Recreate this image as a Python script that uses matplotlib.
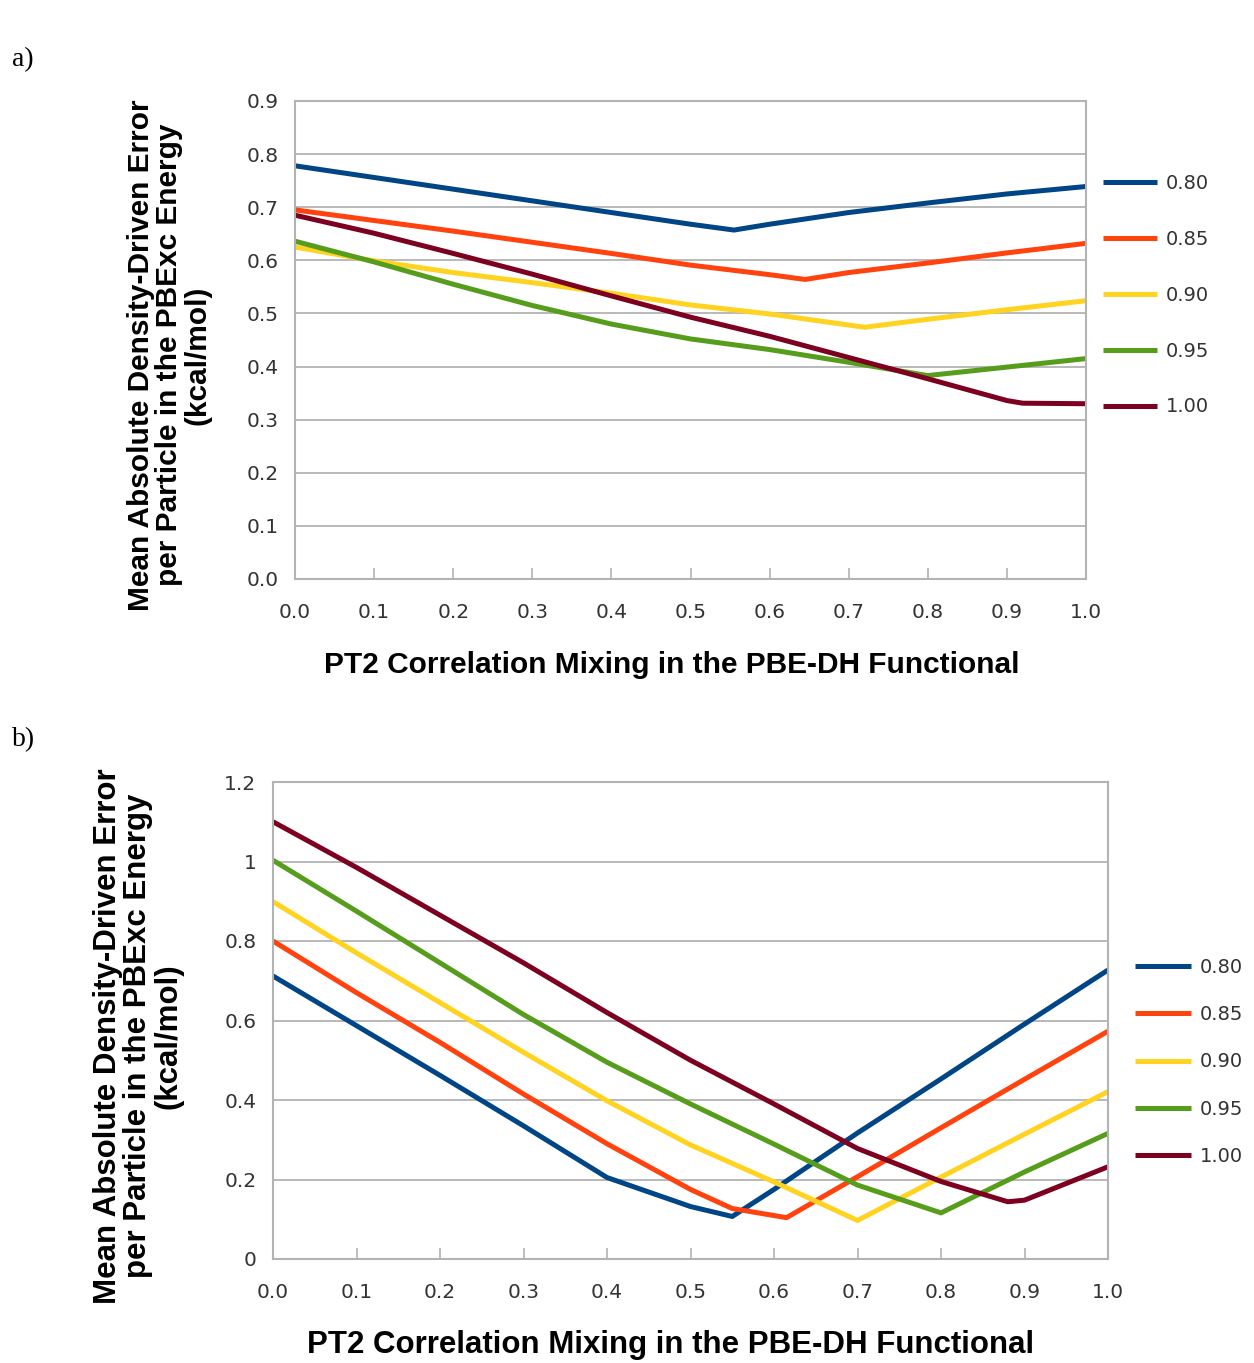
import matplotlib
matplotlib.use("Agg")
import matplotlib.pyplot as plt

plt.rcParams['font.family'] = ['Liberation Sans', 'DejaVu Sans']

# series labels and colours (LibreOffice default palette)
labels = ['0.80', '0.85', '0.90', '0.95', '1.00']
colors = ['#004586', '#ff420e', '#ffd320', '#579d1c', '#7e0021']

# panel a) data
a_x = [
    [0, 0.1, 0.2, 0.3, 0.4, 0.5, 0.555, 0.6, 0.7, 0.8, 0.9, 1.0],
    [0, 0.1, 0.2, 0.3, 0.4, 0.5, 0.6, 0.645, 0.7, 0.8, 0.9, 1.0],
    [0, 0.1, 0.2, 0.3, 0.4, 0.5, 0.6, 0.72, 0.8, 0.9, 1.0],
    [0, 0.1, 0.2, 0.3, 0.4, 0.5, 0.6, 0.7, 0.8, 0.9, 1.0],
    [0, 0.1, 0.2, 0.3, 0.4, 0.5, 0.6, 0.7, 0.8, 0.9, 0.92, 1.0],
]
a_y = [
    [0.778, 0.756, 0.734, 0.712, 0.690, 0.668, 0.657, 0.668, 0.690, 0.708, 0.725, 0.739],
    [0.695, 0.675, 0.655, 0.634, 0.613, 0.591, 0.573, 0.564, 0.577, 0.595, 0.614, 0.632],
    [0.625, 0.599, 0.577, 0.558, 0.538, 0.516, 0.499, 0.474, 0.489, 0.507, 0.524],
    [0.636, 0.597, 0.555, 0.515, 0.480, 0.452, 0.432, 0.408, 0.383, 0.399, 0.415],
    [0.685, 0.651, 0.613, 0.574, 0.533, 0.493, 0.457, 0.417, 0.377, 0.336, 0.331, 0.330],
]

# panel b) data
b_x = [
    [0, 0.1, 0.2, 0.3, 0.4, 0.5, 0.55, 0.6, 0.7, 0.8, 0.9, 1.0],
    [0, 0.1, 0.2, 0.3, 0.4, 0.5, 0.55, 0.615, 0.7, 0.8, 0.9, 1.0],
    [0, 0.1, 0.2, 0.3, 0.4, 0.5, 0.6, 0.7, 0.8, 0.9, 1.0],
    [0, 0.1, 0.2, 0.3, 0.4, 0.5, 0.6, 0.7, 0.8, 0.9, 1.0],
    [0, 0.1, 0.2, 0.3, 0.4, 0.5, 0.6, 0.7, 0.8, 0.88, 0.9, 1.0],
]
b_y = [
    [0.712, 0.587, 0.462, 0.335, 0.205, 0.132, 0.107, 0.175, 0.317, 0.453, 0.591, 0.727],
    [0.800, 0.670, 0.545, 0.415, 0.290, 0.175, 0.127, 0.104, 0.207, 0.330, 0.452, 0.573],
    [0.899, 0.770, 0.645, 0.520, 0.398, 0.287, 0.194, 0.097, 0.206, 0.314, 0.421],
    [1.003, 0.875, 0.745, 0.615, 0.495, 0.390, 0.289, 0.186, 0.116, 0.219, 0.316],
    [1.100, 0.985, 0.865, 0.745, 0.620, 0.500, 0.390, 0.278, 0.195, 0.144, 0.148, 0.232],
]

x_ticks = [0.0, 0.1, 0.2, 0.3, 0.4, 0.5, 0.6, 0.7, 0.8, 0.9, 1.0]
a_yticks = [0.0, 0.1, 0.2, 0.3, 0.4, 0.5, 0.6, 0.7, 0.8, 0.9]
b_yticks = [0, 0.2, 0.4, 0.6, 0.8, 1.0, 1.2]
b_yticklabels = ['0', '0.2', '0.4', '0.6', '0.8', '1', '1.2']

ylabel = 'Mean Absolute Density-Driven Error\nper Particle in the PBExc Energy\n(kcal/mol)'
xlabel = 'PT2 Correlation Mixing in the PBE-DH Functional'

W, H = 1254, 1363
fig = plt.figure(figsize=(W / 100, H / 100), dpi=100)
grey = '#b3b3b3'
tickfont = dict(family='DejaVu Sans', size=14.5)


def style(ax, yticks, ylim, yticklabels=None):
    ax.set_xlim(0, 1)
    ax.set_ylim(*ylim)
    ax.set_xticks(x_ticks)
    ax.set_xticklabels(['%.1f' % t for t in x_ticks], color='#333333', **tickfont)
    ax.set_yticks(yticks)
    if yticklabels is None:
        yticklabels = ['%.1f' % t for t in yticks]
    ax.set_yticklabels(yticklabels, color='#333333', **tickfont)
    ax.tick_params(axis='x', direction='in', length=8, width=1.2, color=grey, pad=17)
    ax.tick_params(axis='y', length=0, pad=12)
    ax.grid(axis='y', color=grey, lw=1.3)
    ax.set_axisbelow(True)
    for s in ax.spines.values():
        s.set_color(grey)
        s.set_linewidth(1.5)


# ---- panel a
ax1 = fig.add_axes([295 / W, 1 - 579 / H, 791 / W, 478 / H])
for xs, ys, c, lab in zip(a_x, a_y, colors, labels):
    ax1.plot(xs, ys, color=c, lw=3.6, label=lab, solid_joinstyle='round',
             solid_capstyle='butt')
style(ax1, a_yticks, (0, 0.9))
leg = ax1.legend(loc='center left', bbox_to_anchor=(1.021, 0.594), frameon=False,
                 prop=dict(family='DejaVu Sans', size=14), handlelength=2.8,
                 handletextpad=0.45, labelspacing=1.9, borderpad=0, borderaxespad=0)
for t in leg.get_texts():
    t.set_color('#333333')

# ---- panel b
ax2 = fig.add_axes([273 / W, 1 - 1259 / H, 835 / W, 477 / H])
for xs, ys, c, lab in zip(b_x, b_y, colors, labels):
    ax2.plot(xs, ys, color=c, lw=3.6, label=lab, solid_joinstyle='round',
             solid_capstyle='butt')
style(ax2, b_yticks, (0, 1.2), b_yticklabels)
leg = ax2.legend(loc='center left', bbox_to_anchor=(1.032, 0.413), frameon=False,
                 prop=dict(family='DejaVu Sans', size=14), handlelength=2.9,
                 handletextpad=0.45, labelspacing=1.45, borderpad=0, borderaxespad=0)
for t in leg.get_texts():
    t.set_color('#333333')

# labels
fig.text(169 / W, 1 - 355 / H, ylabel, rotation=90, ha='center', va='center',
         multialignment='center', fontsize=21.5, fontweight='bold', linespacing=1.02)
fig.text(138 / W, 1 - 1036 / H, ylabel, rotation=90, ha='center', va='center',
         multialignment='center', fontsize=22.5, fontweight='bold', linespacing=1.02)
fig.text(672 / W, 1 - 665 / H, xlabel, ha='center', va='center',
         fontsize=21.5, fontweight='bold')
fig.text(671 / W, 1 - 1345 / H, xlabel, ha='center', va='center',
         fontsize=22.5, fontweight='bold')
fig.text(12 / W, 1 - 60 / H, 'a)', ha='left', va='center', fontsize=20,
         family='Liberation Serif')
fig.text(12 / W, 1 - 740 / H, 'b)', ha='left', va='center', fontsize=20,
         family='Liberation Serif')

fig.savefig('out.png', dpi=100)
